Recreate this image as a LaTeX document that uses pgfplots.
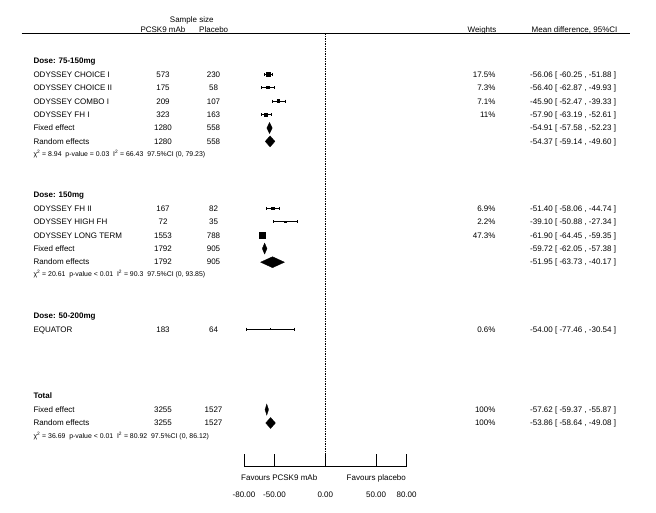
\documentclass[border=0pt]{standalone}
\usepackage{pgfplots}
\pgfplotsset{compat=1.18}
\usepackage{fontspec}
\setmainfont{Liberation Sans}
\newcommand{\TL}[3]{\node[anchor=base west,inner sep=0pt] at (#1,{#2+2.9}) {#3};}
\newcommand{\TC}[3]{\node[anchor=base,inner sep=0pt] at (#1,{#2+2.9}) {#3};}
\newcommand{\TR}[3]{\node[anchor=base east,inner sep=0pt] at (#1,{#2+2.9}) {#3};}
\newcommand{\CHI}[3]{\node[anchor=base west,inner sep=0pt,font=\fontsize{6.9}{8}\selectfont] at (#1,{#2+2.5}) {#3};}
\begin{document}
\fontsize{8}{10}\selectfont
\begin{tikzpicture}
\path (0,0) rectangle (656pt,513pt);
\begin{axis}[
  at={(0,0)}, anchor=south west,
  scale only axis, width=656pt, height=513pt,
  xmin=-320.18, xmax=325.49, ymin=0, ymax=513, y dir=reverse,
  hide axis, clip=false,
  ci/.style={black, line width=0.95pt, mark=|, mark size=1.5pt, mark options={solid, line width=0.9pt}},
  sq/.style={black, only marks, mark=square*, mark options={fill=black, draw=black, line width=0pt}},
  dia/.style={black, fill=black, line width=0.3pt, mark=none},
]
% bottom axis and null line
\draw[line width=0.9pt, dash pattern=on 1.1pt off 1.4pt] (axis cs:0,33.5) -- (axis cs:0,466);
\draw[line width=1pt] (axis cs:-80,466) -- (axis cs:80,466);
\draw[line width=1pt] (axis cs:-80,454) -- (axis cs:-80,466.5);
\draw[line width=1pt] (axis cs:-50,454) -- (axis cs:-50,466.5);
\draw[line width=1pt] (axis cs:0,454) -- (axis cs:0,466.5);
\draw[line width=1pt] (axis cs:50,454) -- (axis cs:50,466.5);
\draw[line width=1pt] (axis cs:80,454) -- (axis cs:80,466.5);
% Dose 75-150
\addplot[ci] coordinates {(-60.25,74.4) (-51.88,74.4)};
\addplot[sq, mark size=1.8pt] coordinates {(-56.06,74.4)};
\addplot[ci] coordinates {(-62.87,87.8) (-49.93,87.8)};
\addplot[sq, mark size=1.2pt] coordinates {(-56.40,87.8)};
\addplot[ci] coordinates {(-52.47,101.2) (-39.33,101.2)};
\addplot[sq, mark size=1.2pt] coordinates {(-45.90,101.2)};
\addplot[ci] coordinates {(-63.19,114.6) (-52.61,114.6)};
\addplot[sq, mark size=1.5pt] coordinates {(-57.90,114.6)};
\addplot[dia] coordinates {(-57.58,128) (-54.91,122.5) (-52.23,128) (-54.91,133.5) (-57.58,128)};
\addplot[dia] coordinates {(-59.14,141.4) (-54.37,135.9) (-49.60,141.4) (-54.37,146.9) (-59.14,141.4)};
% Dose 150
\addplot[ci] coordinates {(-58.06,208.4) (-44.74,208.4)};
\addplot[sq, mark size=1.2pt] coordinates {(-51.40,208.4)};
\addplot[ci] coordinates {(-50.88,221.8) (-27.34,221.8)};
\addplot[sq, mark size=0.7pt] coordinates {(-39.10,221.8)};
\addplot[ci] coordinates {(-64.45,235.2) (-59.35,235.2)};
\addplot[sq, mark size=3.1pt] coordinates {(-61.90,235.2)};
\addplot[dia] coordinates {(-62.05,248.6) (-59.72,243.1) (-57.38,248.6) (-59.72,254.1) (-62.05,248.6)};
\addplot[dia] coordinates {(-63.73,262.2) (-51.95,256.7) (-40.17,262.2) (-51.95,267.7) (-63.73,262.2)};
% Dose 50-200
\addplot[ci] coordinates {(-77.46,329.2) (-30.54,329.2)};
\addplot[sq, mark size=0.4pt] coordinates {(-54.00,329.2)};
% Total
\addplot[dia] coordinates {(-59.37,409.6) (-57.62,404.1) (-55.87,409.6) (-57.62,415.1) (-59.37,409.6)};
\addplot[dia] coordinates {(-58.64,423.0) (-53.86,417.5) (-49.08,423.0) (-53.86,428.5) (-58.64,423.0)};
\end{axis}
\begin{scope}[x=1pt,y=-1pt,yshift=513pt]
\draw[line width=0.8pt] (21.7,33.5) -- (630,33.5);
\TC{191.7}{19.3}{Sample size}
\TC{163}{29.8}{PCSK9 mAb}
\TC{213.7}{29.8}{Placebo}
\TC{482}{29.8}{Weights}
\TL{531.5}{29.8}{Mean difference, 95\%CI}
% group 1
\TL{33.3}{61}{\bfseries Dose: 75-150mg}
\TL{33.3}{74.4}{ODYSSEY CHOICE I}\TC{163}{74.4}{573}\TC{213.5}{74.4}{230}\TR{495.7}{74.4}{17.5\%}\TL{530}{74.4}{-56.06 [ -60.25 , -51.88 ]}
\TL{33.3}{87.8}{ODYSSEY CHOICE II}\TC{163}{87.8}{175}\TC{213.5}{87.8}{58}\TR{495.7}{87.8}{7.3\%}\TL{530}{87.8}{-56.40 [ -62.87 , -49.93 ]}
\TL{33.3}{101.2}{ODYSSEY COMBO I}\TC{163}{101.2}{209}\TC{213.5}{101.2}{107}\TR{495.7}{101.2}{7.1\%}\TL{530}{101.2}{-45.90 [ -52.47 , -39.33 ]}
\TL{33.3}{114.6}{ODYSSEY FH I}\TC{163}{114.6}{323}\TC{213.5}{114.6}{163}\TR{495.7}{114.6}{11\%}\TL{530}{114.6}{-57.90 [ -63.19 , -52.61 ]}
\TL{33.3}{128}{Fixed effect}\TC{163}{128}{1280}\TC{213.5}{128}{558}\TL{530}{128}{-54.91 [ -57.58 , -52.23 ]}
\TL{33.3}{141.4}{Random effects}\TC{163}{141.4}{1280}\TC{213.5}{141.4}{558}\TL{530}{141.4}{-54.37 [ -59.14 , -49.60 ]}
\CHI{33.3}{154.3}{χ\textsuperscript{2} = 8.94\ \ p-value = 0.03\ \ I\textsuperscript{2} = 66.43\ \ 97.5\%CI (0, 79.23)}
% group 2
\TL{33.3}{194.6}{\bfseries Dose: 150mg}
\TL{33.3}{208.4}{ODYSSEY FH II}\TC{163}{208.4}{167}\TC{213.5}{208.4}{82}\TR{495.7}{208.4}{6.9\%}\TL{530}{208.4}{-51.40 [ -58.06 , -44.74 ]}
\TL{33.3}{221.8}{ODYSSEY HIGH FH}\TC{163}{221.8}{72}\TC{213.5}{221.8}{35}\TR{495.7}{221.8}{2.2\%}\TL{530}{221.8}{-39.10 [ -50.88 , -27.34 ]}
\TL{33.3}{235.2}{ODYSSEY LONG TERM}\TC{163}{235.2}{1553}\TC{213.5}{235.2}{788}\TR{495.7}{235.2}{47.3\%}\TL{530}{235.2}{-61.90 [ -64.45 , -59.35 ]}
\TL{33.3}{248.4}{Fixed effect}\TC{163}{248.4}{1792}\TC{213.5}{248.4}{905}\TL{530}{248.4}{-59.72 [ -62.05 , -57.38 ]}
\TL{33.3}{261.8}{Random effects}\TC{163}{261.8}{1792}\TC{213.5}{261.8}{905}\TL{530}{261.8}{-51.95 [ -63.73 , -40.17 ]}
\CHI{33.3}{274.5}{χ\textsuperscript{2} = 20.61\ \ p-value < 0.01\ \ I\textsuperscript{2} = 90.3\ \ 97.5\%CI (0, 93.85)}
% group 3
\TL{33.3}{315.7}{\bfseries Dose: 50-200mg}
\TL{33.3}{329.2}{EQUATOR}\TC{163}{329.2}{183}\TC{213.5}{329.2}{64}\TR{495.7}{329.2}{0.6\%}\TL{530}{329.2}{-54.00 [ -77.46 , -30.54 ]}
% total
\TL{33.3}{395.8}{\bfseries Total}
\TL{33.3}{409.3}{Fixed effect}\TC{163}{409.3}{3255}\TC{213.5}{409.3}{1527}\TR{495.7}{409.3}{100\%}\TL{530}{409.3}{-57.62 [ -59.37 , -55.87 ]}
\TL{33.3}{422.7}{Random effects}\TC{163}{422.7}{3255}\TC{213.5}{422.7}{1527}\TR{495.7}{422.7}{100\%}\TL{530}{422.7}{-53.86 [ -58.64 , -49.08 ]}
\CHI{33.3}{435.7}{χ\textsuperscript{2} = 36.69\ \ p-value < 0.01\ \ I\textsuperscript{2} = 80.92\ \ 97.5\%CI (0, 86.12)}
% bottom labels
\TC{279.2}{477.7}{Favours PCSK9 mAb}
\TC{376.3}{477.7}{Favours placebo}
\TC{244.0}{495}{-80.00}
\TC{274.5}{495}{-50.00}
\TC{325.3}{495}{0.00}
\TC{376.1}{495}{50.00}
\TC{406.6}{495}{80.00}
\end{scope}
\end{tikzpicture}
\end{document}
